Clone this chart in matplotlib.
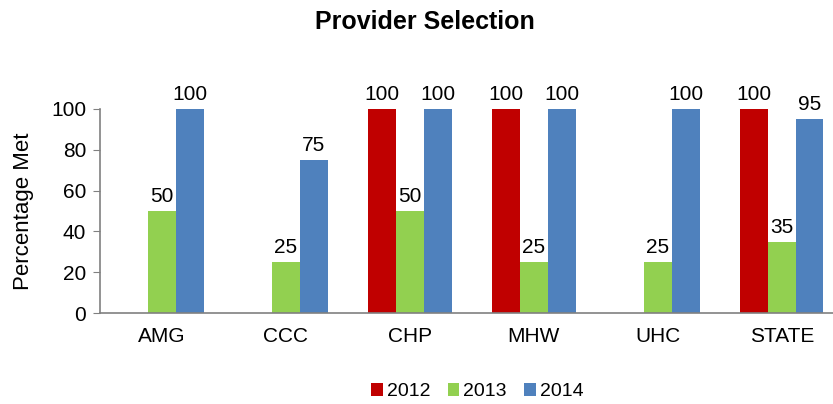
import matplotlib.pyplot as plt
import numpy as np

plt.rcParams['font.family'] = ['Liberation Sans', 'DejaVu Sans']

categories = ['AMG', 'CCC', 'CHP', 'MHW', 'UHC', 'STATE']
years = ['2012', '2013', '2014']
vals_2012 = [None, None, 100, 100, None, 100]
vals_2013 = [50, 25, 50, 25, 25, 35]
vals_2014 = [100, 75, 100, 100, 100, 95]
colors = ['#C00000', '#92D050', '#4F81BD']

fig = plt.figure(figsize=(8.33, 4.04), dpi=100)
ax = fig.add_axes([0.12, 0.2252, 0.893, 0.505])

x = np.arange(len(categories))
w = 0.224
series = [vals_2012, vals_2013, vals_2014]
for i, (vals, yr, c) in enumerate(zip(series, years, colors)):
    pos = x + (i - 1) * w
    h = [v if v is not None else 0 for v in vals]
    bars = ax.bar(pos, h, w, color=c, label=yr)
    for p, v in zip(pos, vals):
        if v is not None:
            ax.text(p, v + 2.5, str(v), ha='center', va='bottom', fontsize=15)

ax.set_xlim(-0.5, len(categories) - 0.5)
ax.set_ylim(0, 100)
ax.set_yticks(range(0, 101, 20))
ax.set_xticks(x)
ax.set_xticklabels(categories)
ax.tick_params(axis='x', length=0, labelsize=15, pad=10)
ax.tick_params(axis='y', labelsize=15, color='#808080', length=5, pad=5)
ax.set_ylabel('Percentage Met', fontsize=16, labelpad=12)
for s in ['top', 'right']:
    ax.spines[s].set_visible(False)
for s in ['left', 'bottom']:
    ax.spines[s].set_color('#808080')
    ax.spines[s].set_linewidth(1.2)

fig.text(0.51, 0.945, 'Provider Selection', ha='center', va='center', fontsize=18, fontweight='bold')
fig.legend(loc='center', bbox_to_anchor=(0.573, 0.03), ncol=3, frameon=False,
           fontsize=14, handlelength=0.6, handleheight=0.6, handletextpad=0.2, columnspacing=0.9)

fig.savefig('out.png', dpi=100)
